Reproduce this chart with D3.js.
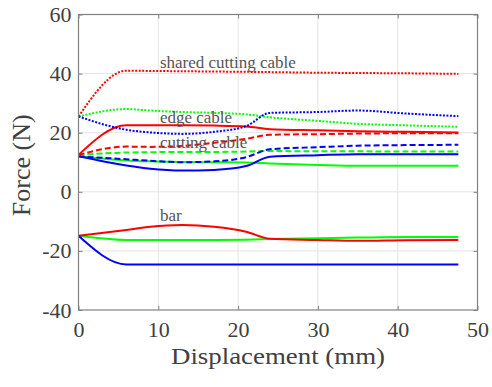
<!DOCTYPE html>
<html>
<head>
<meta charset="utf-8">
<script src="https://cdn.jsdelivr.net/npm/d3@7"></script>
<style>
  body { margin: 0; background: #fff; }
</style>
</head>
<body>
<svg id="chart" width="492" height="387"></svg>
<script>
// displacement samples (mm), shared by all series
const disp = [0, 6, 9, 13, 17, 21, 24, 30, 35, 41, 47.6];

// edge / shared cables (dotted + solid red)
const sharedRed = [25.5, 41, 40.9, 40.8, 40.7, 40.6, 40.5, 40.3, 40.2, 40.1, 39.9];
const edgeGreen = [25.5, 28, 27.5, 27, 26.7, 26.2, 25.2, 24, 23, 22.5, 22];
const edgeBlue = [25.5, 21, 20.1, 19.6, 20.3, 22.2, 26.7, 27, 27.5, 26.5, 25.6];
const edgeRed = [12.5, 22.5, 22.5, 22.5, 22.4, 22.1, 21.2, 20.8, 20.5, 20.3, 20.1];

// cutting cables (dashed + solid)
const cutRedDash = [12.5, 15.3, 15.2, 15.5, 16.6, 17.9, 19.3, 19.5, 19.7, 19.8, 19.8];
const cutBlueDash = [12, 11, 10.5, 10, 10.3, 11.7, 14.4, 15.1, 15.6, 15.8, 15.9];
const cutGreenDash = [12.5, 13.3, 13.4, 13.5, 13.5, 13.6, 13.8, 13.7, 13.7, 13.6, 13.6];
const cutBlue = [12, 8.9, 7.8, 7.2, 7.4, 8.7, 11.9, 12.4, 12.7, 12.7, 12.7];
const cutGreen = [12, 10.6, 10.3, 10.1, 10, 9.9, 9.6, 9.1, 8.8, 8.8, 8.8];

// bars
const barRed = [-14.9, -12.9, -11.8, -11.2, -11.8, -13.5, -15.9, -16.3, -16.6, -16.4, -16.3];
const barGreen = [-14.9, -16.3, -16.3, -16.3, -16.3, -16.2, -16, -15.7, -15.5, -15.3, -15.3];
const barBlue = [-14.9, -24.6, -24.6, -24.6, -24.6, -24.6, -24.6, -24.6, -24.6, -24.6, -24.6];

const xTicks = [0, 10, 20, 30, 40, 50];
const yTicks = [-40, -20, 0, 20, 40, 60];

const labels = [
    { text: 'shared cutting cable', x: 10.2, y: 41.8 },
    { text: 'edge cable', x: 10.2, y: 23.4 },
    { text: 'cutting cable', x: 10.2, y: 14.9 },
    { text: 'bar', x: 10.2, y: -10 }
];

const series = [
    { vals: cutGreen, color: '#00ff00', dash: null },
    { vals: cutBlue, color: '#0000ff', dash: null },
    { vals: cutGreenDash, color: '#00ff00', dash: '6,3' },
    { vals: cutBlueDash, color: '#0000ff', dash: '6,3' },
    { vals: cutRedDash, color: '#ff0000', dash: '6,3' },
    { vals: edgeRed, color: '#ff0000', dash: null },
    { vals: edgeGreen, color: '#00ff00', dash: '2,1.5' },
    { vals: edgeBlue, color: '#0000ff', dash: '2,1.5' },
    { vals: sharedRed, color: '#ff0000', dash: '2,1.5' },
    { vals: barGreen, color: '#00ff00', dash: null },
    { vals: barRed, color: '#ff0000', dash: null },
    { vals: barBlue, color: '#0000ff', dash: null }
];

const serif = 'Liberation Serif';

const svg = d3.select('#chart');
const pLeft = 78.5, pRight = 477.5, pTop = 14.5, pBottom = 310;

const x = d3.scaleLinear().domain([0, 50]).range([pLeft, pRight]);
const y = d3.scaleLinear().domain([-40, 60]).range([pBottom, pTop]);

// grid
const grid = svg.append('g');
grid.selectAll('.gx').data(xTicks.slice(1, -1)).enter().append('line')
    .attr('x1', d => x(d)).attr('x2', d => x(d))
    .attr('y1', pTop).attr('y2', pBottom)
    .attr('stroke', '#e4e4e4').attr('stroke-width', 1);
grid.selectAll('.gy').data(yTicks.slice(1, -1)).enter().append('line')
    .attr('x1', pLeft).attr('x2', pRight)
    .attr('y1', d => y(d)).attr('y2', d => y(d))
    .attr('stroke', '#e4e4e4').attr('stroke-width', 1);

// lines
const line = d3.line()
    .x((d, i) => x(disp[i]))
    .y(d => y(d))
    .curve(d3.curveMonotoneX);

svg.append('g').selectAll('path').data(series).enter().append('path')
    .attr('d', d => line(d.vals))
    .attr('fill', 'none')
    .attr('stroke', d => d.color)
    .attr('stroke-width', 2)
    .attr('stroke-dasharray', d => d.dash);

// axes (ticks point inward, box all round)
const axisColor = '#808080';
const fmt = d => String(d);
function styleAxis(g) {
    g.select('.domain').remove();
    g.selectAll('.tick line').attr('stroke', axisColor);
    g.selectAll('.tick text')
        .attr('fill', '#404040')
        .style('font-family', serif)
        .style('font-size', '22px');
}
svg.append('g').attr('transform', `translate(0,${pBottom})`)
    .call(d3.axisBottom(x).tickValues(xTicks).tickSize(-4).tickPadding(11.5).tickFormat(fmt))
    .call(styleAxis);
svg.append('g').attr('transform', `translate(0,${pTop})`)
    .call(d3.axisTop(x).tickValues(xTicks).tickSize(-4).tickFormat(''))
    .call(styleAxis);
svg.append('g').attr('transform', `translate(${pLeft},0)`)
    .call(d3.axisLeft(y).tickValues(yTicks).tickSize(-4).tickPadding(7).tickFormat(fmt))
    .call(styleAxis);
svg.append('g').attr('transform', `translate(${pRight},0)`)
    .call(d3.axisRight(y).tickValues(yTicks).tickSize(-4).tickFormat(''))
    .call(styleAxis);

svg.append('rect')
    .attr('x', pLeft).attr('y', pTop)
    .attr('width', pRight - pLeft).attr('height', pBottom - pTop)
    .attr('fill', 'none').attr('stroke', axisColor).attr('stroke-width', 1.2);

// annotations
svg.append('g').selectAll('text').data(labels).enter().append('text')
    .attr('x', d => x(d.x))
    .attr('y', d => y(d.y))
    .attr('fill', '#555')
    .style('font-family', serif)
    .style('font-size', '17px')
    .text(d => d.text);

// axis titles
svg.append('text')
    .attr('x', (pLeft + pRight) / 2)
    .attr('y', 364)
    .attr('text-anchor', 'middle')
    .attr('fill', '#404040')
    .attr('textLength', 214)
    .attr('lengthAdjust', 'spacingAndGlyphs')
    .style('font-family', serif)
    .style('font-size', '24px')
    .text('Displacement (mm)');

svg.append('text')
    .attr('transform', `translate(30,${(pTop + pBottom) / 2 + 3}) rotate(-90)`)
    .attr('text-anchor', 'middle')
    .attr('fill', '#404040')
    .style('font-family', serif)
    .style('font-size', '26px')
    .text('Force (N)');
</script>
</body>
</html>
